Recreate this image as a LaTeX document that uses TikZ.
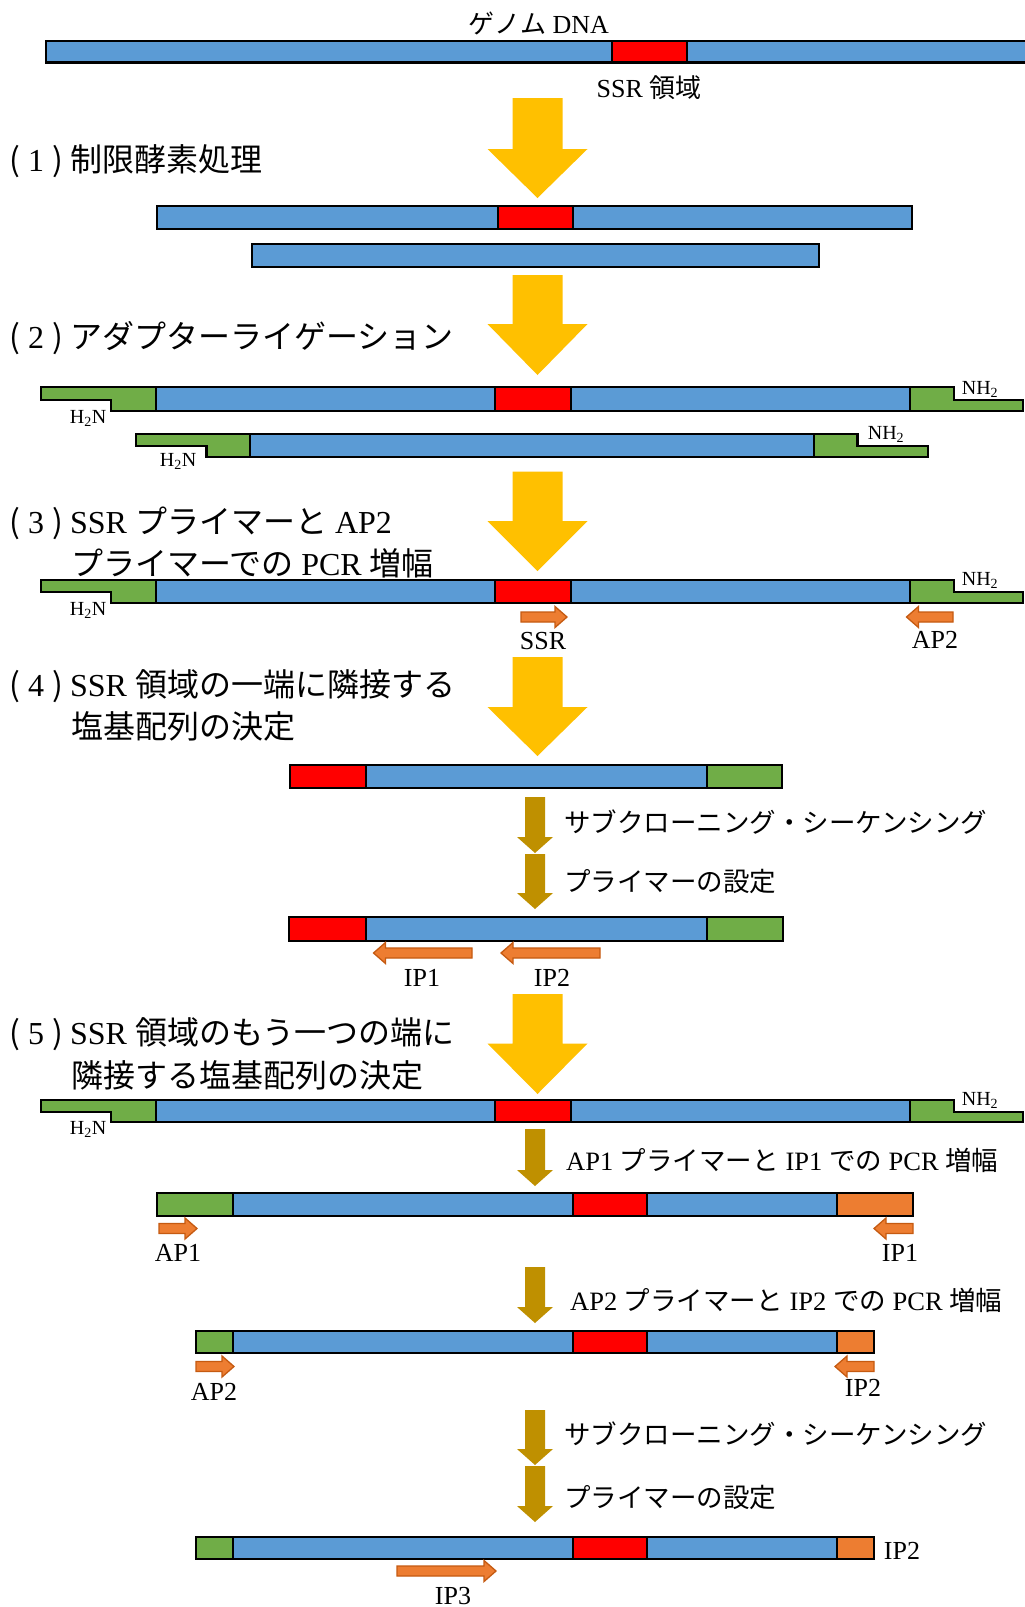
\documentclass[tikz,border=0pt]{standalone}
\usepackage{fontspec}
\setmainfont{Liberation Serif}
\newfontfamily\jp{Noto Sans CJK JP}
\newcommand\J[1]{{\jp #1}}
\newcommand\Num[1]{\J{(}\kern8pt #1\kern8pt\J{)}\kern7.3pt}
\definecolor{cBlue}{HTML}{5B9BD5}
\definecolor{cRed}{HTML}{FF0000}
\definecolor{cGreen}{HTML}{70AD47}
\definecolor{cOr}{HTML}{ED7D31}
\definecolor{cOrD}{HTML}{C55A11}
\definecolor{cYel}{HTML}{FFC000}
\definecolor{cGold}{HTML}{BF9000}
\tikzset{
  outl/.style={draw=black,line width=2.6pt,line join=miter},
  seg/.style={draw=black,line width=1.3pt},
  yarrow/.style={fill=cYel,draw=none},
  darrow/.style={fill=cGold,draw=none},
  primer/.style={fill=cOr,draw=cOrD,line width=1.3pt,line join=miter},
  lab/.style={font=\fontsize{32}{36}\selectfont,inner sep=0pt,anchor=base west},
  rt/.style={font=\fontsize{26.5}{30}\selectfont,inner sep=0pt,anchor=base west},
  sm/.style={font=\fontsize{26}{30}\selectfont,inner sep=0pt},
  hn/.style={font=\fontsize{20}{24}\selectfont,inner sep=0pt}
}
\newcommand\BigArrow[3]{\fill[yarrow] (512.5,#1) -- (562.5,#1) -- (562.5,#2) -- (587.5,#2) -- (537.5,#3) -- (487.5,#2) -- (512.5,#2) -- cycle;}
\newcommand\SmallArrow[2]{\fill[darrow] (525,#1) -- (545,#1) -- (545,#2-16) -- (553,#2-16) -- (535,#2) -- (517,#2-16) -- (525,#2-16) -- cycle;}
\newcommand\PrimerR[3]{\draw[primer] (#1,#3-5) -- (#2-12,#3-5) -- (#2-12,#3-10.5) -- (#2,#3) -- (#2-12,#3+10.5) -- (#2-12,#3+5) -- (#1,#3+5) -- cycle;}
\newcommand\PrimerL[3]{\draw[primer] (#2,#3-5) -- (#1+12,#3-5) -- (#1+12,#3-10.5) -- (#1,#3) -- (#1+12,#3+10.5) -- (#1+12,#3+5) -- (#2,#3+5) -- cycle;}
\newcommand\AdRow[3]{%
  \filldraw[seg,fill=cGreen] (41,#1) -- (156,#1) -- (156,#3) -- (111,#3) -- (111,#2) -- (41,#2) -- cycle;
  \filldraw[seg,fill=cBlue] (156,#1) rectangle (495,#3);
  \filldraw[seg,fill=cRed] (495,#1) rectangle (571,#3);
  \filldraw[seg,fill=cBlue] (571,#1) rectangle (910,#3);
  \filldraw[seg,fill=cGreen] (910,#1) -- (954,#1) -- (954,#2) -- (1023,#2) -- (1023,#3) -- (910,#3) -- cycle;
  \draw[outl] (41,#1) -- (954,#1) -- (954,#2) -- (1023,#2) -- (1023,#3) -- (111,#3) -- (111,#2) -- (41,#2) -- cycle;}
\newcommand\FiveRow[3]{% y1 y2 xleft
  \filldraw[seg,fill=cGreen] (#3,#1) rectangle (233,#2);
  \filldraw[seg,fill=cBlue] (233,#1) rectangle (573,#2);
  \filldraw[seg,fill=cRed] (573,#1) rectangle (647,#2);
  \filldraw[seg,fill=cBlue] (647,#1) rectangle (837,#2);}
\begin{document}
\begin{tikzpicture}[x=1pt,y=-1pt]
\useasboundingbox (0,0) rectangle (1025,1607);
\fill[white] (0,0) rectangle (1025,1607);

% genome DNA
\filldraw[seg,fill=cBlue] (46,41) rectangle (1030,62.5);
\filldraw[seg,fill=cRed] (612,41) rectangle (687,62.5);
\draw[outl] (46,41) rectangle (1030,62.5);
\node[sm,anchor=base] (genome) at (539,33) {\J{ゲノム} DNA};
\node[sm,anchor=base] (ssrreg) at (649,97) {SSR \J{領域}};

% step 1
\BigArrow{98}{149}{198}
\node[lab] (l1) at (9,171) {\Num{1}\J{制限酵素処理}};
\filldraw[seg,fill=cBlue] (157,206) rectangle (498,229);
\filldraw[seg,fill=cRed] (498,206) rectangle (573,229);
\filldraw[seg,fill=cBlue] (573,206) rectangle (912,229);
\draw[outl] (157,206) rectangle (912,229);
\filldraw[outl,fill=cBlue] (252,244) rectangle (819,267);

% step 2
\BigArrow{275}{324}{375}
\node[lab] (l2) at (9,348) {\Num{2}\J{アダプターライゲーション}};
\AdRow{387}{400}{411}
\node[hn] (h2a) at (88,418) {H\textsubscript{2}N};
\node[hn] (n2a) at (980,389) {NH\textsubscript{2}};
\filldraw[seg,fill=cGreen] (136,434) -- (250,434) -- (250,457) -- (206.5,457) -- (206.5,446) -- (136,446) -- cycle;
\filldraw[seg,fill=cBlue] (250,434) rectangle (814,457);
\filldraw[seg,fill=cGreen] (814,434) -- (857.5,434) -- (857.5,446) -- (928,446) -- (928,457) -- (814,457) -- cycle;
\draw[outl] (136,434) -- (857.5,434) -- (857.5,446) -- (928,446) -- (928,457) -- (206.5,457) -- (206.5,446) -- (136,446) -- cycle;
\node[hn] (h2b) at (178,461) {H\textsubscript{2}N};
\node[hn] (n2b) at (886,434.5) {NH\textsubscript{2}};

% step 3
\BigArrow{471.5}{521}{571}
\node[lab] (l3a) at (9,533) {\Num{3}SSR \J{プライマーと} AP2};
\node[lab] (l3b) at (71,575) {\J{プライマーでの} PCR \J{増幅}};
\AdRow{580}{592}{603}
\node[hn] (h3) at (88,610) {H\textsubscript{2}N};
\node[hn] (n3) at (980,580.5) {NH\textsubscript{2}};
\PrimerR{521}{567}{617}
\PrimerL{906.5}{953}{617}
\node[sm] (pssr) at (543,641) {SSR};
\node[sm] (pap2a) at (935,640) {AP2};

% step 4
\BigArrow{657}{707}{756}
\node[lab] (l4a) at (9,696) {\Num{4}SSR \J{領域の一端に隣接する}};
\node[lab] (l4b) at (71,738) {\J{塩基配列の決定}};
\filldraw[seg,fill=cRed] (290,765) rectangle (366,788);
\filldraw[seg,fill=cBlue] (366,765) rectangle (707,788);
\filldraw[seg,fill=cGreen] (707,765) rectangle (782,788);
\draw[outl] (290,765) rectangle (782,788);
\SmallArrow{797}{853}
\node[rt] (t4a) at (564,832) {\J{サブクローニング・シーケンシング}};
\SmallArrow{854}{909}
\node[rt] (t4b) at (564,891) {\J{プライマーの設定}};
\filldraw[seg,fill=cRed] (289,917) rectangle (366,941);
\filldraw[seg,fill=cBlue] (366,917) rectangle (707,941);
\filldraw[seg,fill=cGreen] (707,917) rectangle (783,941);
\draw[outl] (289,917) rectangle (783,941);
\PrimerL{373.5}{472}{953}
\PrimerL{501}{600}{953}
\node[sm] (pip1a) at (422,978) {IP1};
\node[sm] (pip2a) at (552,978) {IP2};

% step 5
\BigArrow{994}{1043.5}{1094}
\node[lab] (l5a) at (9,1044) {\Num{5}SSR \J{領域のもう一つの端に}};
\node[lab] (l5b) at (71,1087) {\J{隣接する塩基配列の決定}};
\AdRow{1100}{1112}{1122}
\node[hn] (h6) at (88,1129) {H\textsubscript{2}N};
\node[hn] (n6) at (980,1100) {NH\textsubscript{2}};

\SmallArrow{1129}{1186}
\node[rt] (t5a) at (566,1170) {AP1 \J{プライマーと} IP1 \J{での} PCR \J{増幅}};
\FiveRow{1193}{1216}{157}
\filldraw[seg,fill=cOr] (837,1193) rectangle (913,1216);
\draw[outl] (157,1193) rectangle (913,1216);
\PrimerR{159}{197}{1228.5}
\PrimerL{874}{913}{1228.5}
\node[sm] (pap1) at (178,1253) {AP1};
\node[sm] (pip1b) at (900,1253) {IP1};

\SmallArrow{1267}{1323}
\node[rt] (t5b) at (570,1310) {AP2 \J{プライマーと} IP2 \J{での} PCR \J{増幅}};
\FiveRow{1331}{1353}{196}
\filldraw[seg,fill=cOr] (837,1331) rectangle (874,1353);
\draw[outl] (196,1331) rectangle (874,1353);
\PrimerR{196}{234}{1366.5}
\PrimerL{835}{874}{1366.5}
\node[sm] (pap2b) at (214,1392) {AP2};
\node[sm] (pip2b) at (863,1388) {IP2};

\SmallArrow{1410}{1465}
\node[rt] (t5c) at (564,1444) {\J{サブクローニング・シーケンシング}};
\SmallArrow{1466}{1522}
\node[rt] (t5d) at (564,1507) {\J{プライマーの設定}};
\FiveRow{1537}{1559}{196}
\filldraw[seg,fill=cOr] (837,1537) rectangle (874,1559);
\draw[outl] (196,1537) rectangle (874,1559);
\node[sm] (pip2c) at (902,1551) {IP2};
\PrimerR{397}{496}{1571}
\node[sm] (pip3) at (453,1596) {IP3};
\end{tikzpicture}
\end{document}
